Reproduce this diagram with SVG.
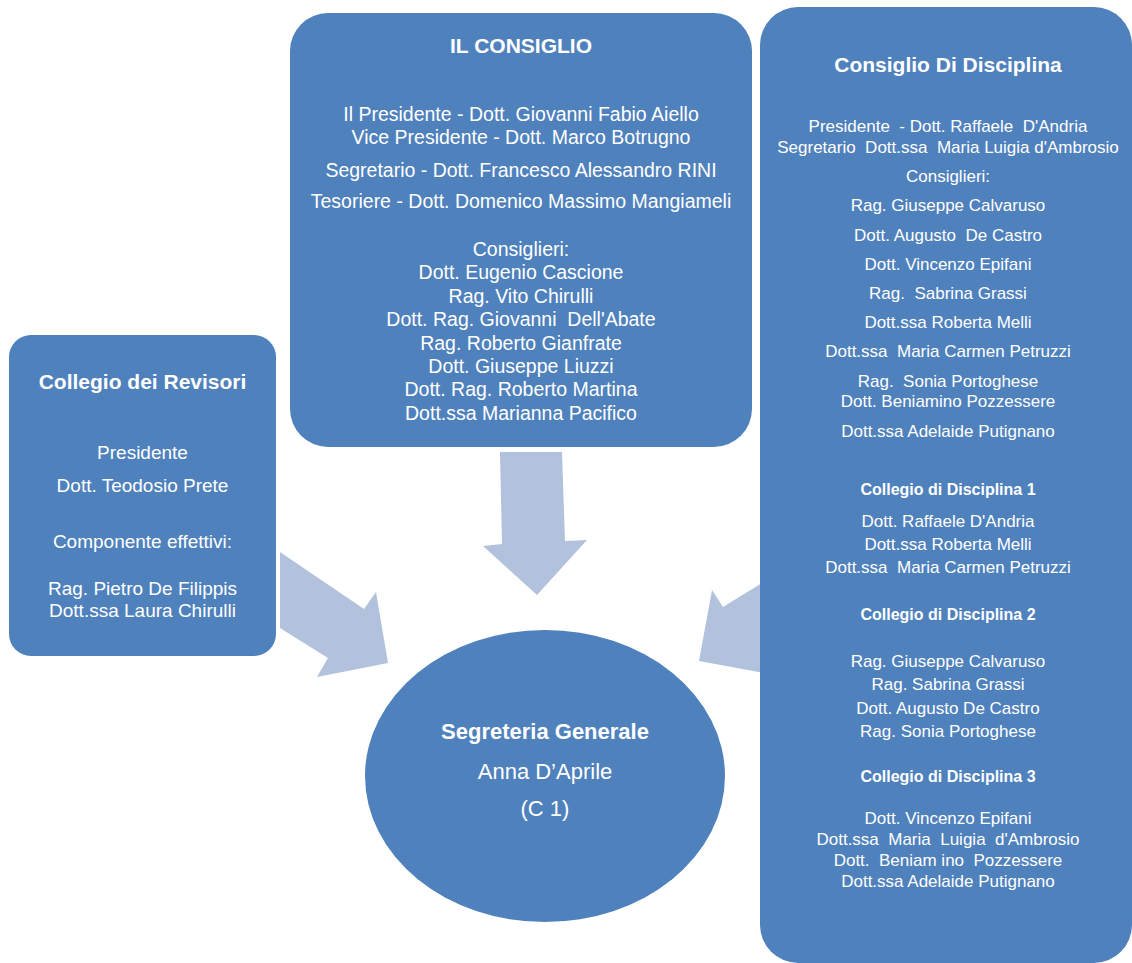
<svg xmlns="http://www.w3.org/2000/svg" width="1132" height="963" viewBox="0 0 1132 963">
<style>
.box{fill:#4F81BD}
.arrow{fill:#B2C2DC}
text{font-family:"Liberation Sans",Arial,sans-serif;fill:#ffffff;text-anchor:middle;white-space:pre}
.t{font-weight:bold;font-size:21px}
.m{font-size:19.5px}
.l{font-size:19px}
.r{font-size:17px}
.s{font-weight:bold;font-size:16px}
</style>
<rect width="1132" height="963" fill="#ffffff"/>
<g id="connectors">
<polygon class="arrow" points="500,452 562,452 565,541 587,540 537,595 483,546 502,544"/>
<polygon class="arrow" points="280,552 364,609 376,592 388,663 317,677 328,658 280,628"/>
<polygon class="arrow" points="712,590 723,607 770,578 770,674 699,661"/>
</g>
<g id="collegio-revisori">
<rect class="box" x="9" y="335" width="267" height="321" rx="22"/>
<text class="t" x="142.5" y="389">Collegio dei Revisori</text>
<text class="l" x="142.5" y="459">Presidente</text>
<text class="l" x="142.5" y="492">Dott. Teodosio Prete</text>
<text class="l" x="142.5" y="548">Componente effettivi:</text>
<text class="l" x="142.5" y="595">Rag. Pietro De Filippis</text>
<text class="l" x="142.5" y="617">Dott.ssa Laura Chirulli</text>
</g>
<g id="il-consiglio">
<rect class="box" x="290" y="13" width="462" height="434" rx="38"/>
<text class="t" x="521" y="53">IL CONSIGLIO</text>
<text class="m" x="521" y="121">Il Presidente - Dott. Giovanni Fabio Aiello</text>
<text class="m" x="521" y="144">Vice Presidente - Dott. Marco Botrugno</text>
<text class="m" x="521" y="177">Segretario - Dott. Francesco Alessandro RINI</text>
<text class="m" x="521" y="208">Tesoriere - Dott. Domenico Massimo Mangiameli</text>
<text class="m" x="521" y="256">Consiglieri:</text>
<text class="m" x="521" y="279.4">Dott. Eugenio Cascione</text>
<text class="m" x="521" y="302.8">Rag. Vito Chirulli</text>
<text class="m" x="521" y="326.2">Dott. Rag. Giovanni  Dell'Abate</text>
<text class="m" x="521" y="349.6">Rag. Roberto Gianfrate</text>
<text class="m" x="521" y="373">Dott. Giuseppe Liuzzi</text>
<text class="m" x="521" y="396.4">Dott. Rag. Roberto Martina</text>
<text class="m" x="521" y="419.8">Dott.ssa Marianna Pacifico</text>
</g>
<g id="consiglio-disciplina">
<rect class="box" x="760" y="7" width="372" height="956" rx="38"/>
<text class="t" x="948" y="72">Consiglio Di Disciplina</text>
<text class="r" x="948" y="132">Presidente  - Dott. Raffaele  D'Andria</text>
<text class="r" x="948" y="153">Segretario  Dott.ssa  Maria Luigia d'Ambrosio</text>
<text class="r" x="948" y="182">Consiglieri:</text>
<text class="r" x="948" y="211">Rag. Giuseppe Calvaruso</text>
<text class="r" x="948" y="241">Dott. Augusto  De Castro</text>
<text class="r" x="948" y="270">Dott. Vincenzo Epifani</text>
<text class="r" x="948" y="299">Rag.  Sabrina Grassi</text>
<text class="r" x="948" y="328">Dott.ssa Roberta Melli</text>
<text class="r" x="948" y="357">Dott.ssa  Maria Carmen Petruzzi</text>
<text class="r" x="948" y="387">Rag.  Sonia Portoghese</text>
<text class="r" x="948" y="407">Dott. Beniamino Pozzessere</text>
<text class="r" x="948" y="437">Dott.ssa Adelaide Putignano</text>
<text class="s" x="948" y="495">Collegio di Disciplina 1</text>
<text class="r" x="948" y="527">Dott. Raffaele D'Andria</text>
<text class="r" x="948" y="550">Dott.ssa Roberta Melli</text>
<text class="r" x="948" y="573">Dott.ssa  Maria Carmen Petruzzi</text>
<text class="s" x="948" y="620">Collegio di Disciplina 2</text>
<text class="r" x="948" y="667">Rag. Giuseppe Calvaruso</text>
<text class="r" x="948" y="690">Rag. Sabrina Grassi</text>
<text class="r" x="948" y="714">Dott. Augusto De Castro</text>
<text class="r" x="948" y="737">Rag. Sonia Portoghese</text>
<text class="s" x="948" y="782">Collegio di Disciplina 3</text>
<text class="r" x="948" y="824">Dott. Vincenzo Epifani</text>
<text class="r" x="948" y="845">Dott.ssa  Maria  Luigia  d'Ambrosio</text>
<text class="r" x="948" y="866">Dott.  Beniam ino  Pozzessere</text>
<text class="r" x="948" y="887">Dott.ssa Adelaide Putignano</text>
</g>
<g id="segreteria-generale">
<ellipse class="box" cx="545" cy="776" rx="180" ry="146"/>
<text x="545" y="739" style="font-weight:bold;font-size:22px">Segreteria Generale</text>
<text x="545" y="779" style="font-size:22px">Anna D’Aprile</text>
<text x="545" y="816" style="font-size:22px">(C 1)</text>
</g>
</svg>
